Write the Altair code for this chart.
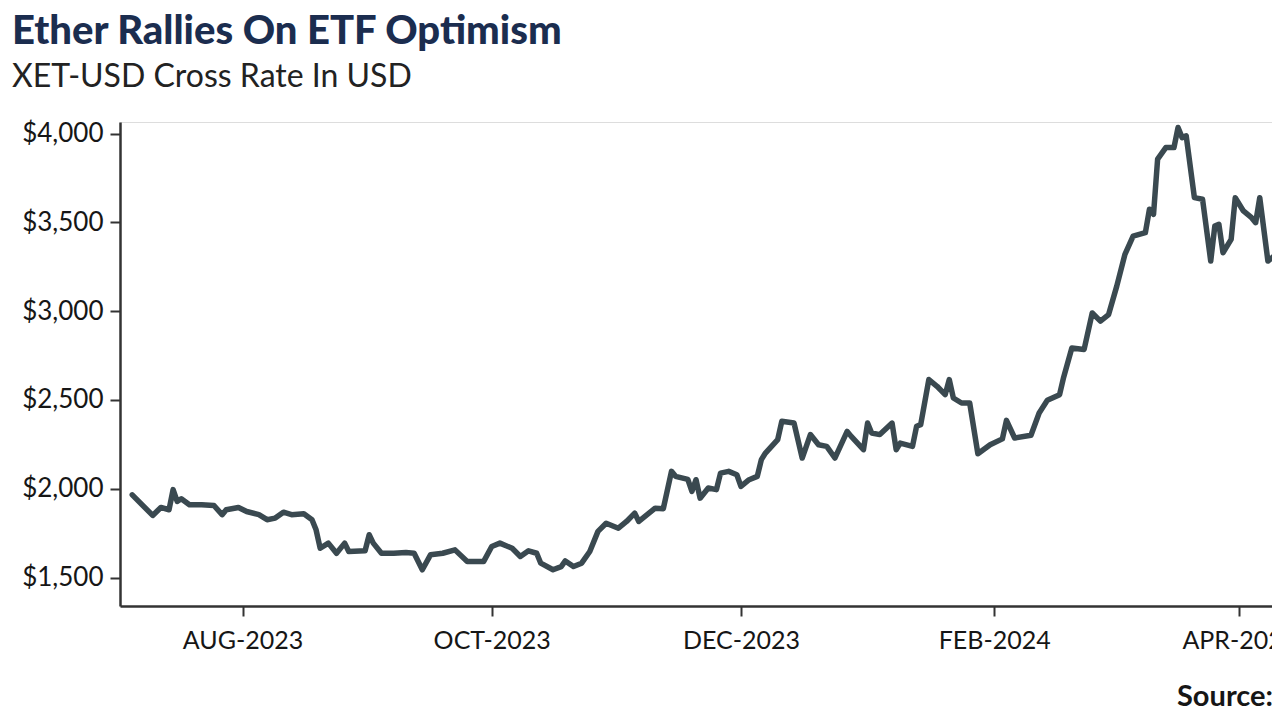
import altair as alt
import pandas as pd

# XET-USD cross rate
dates = [
    "2023-07-05", "2023-07-10", "2023-07-12", "2023-07-14", "2023-07-15", "2023-07-16",
    "2023-07-17", "2023-07-19", "2023-07-22", "2023-07-25", "2023-07-27", "2023-07-28",
    "2023-07-31", "2023-08-02", "2023-08-05", "2023-08-07", "2023-08-09", "2023-08-11",
    "2023-08-13", "2023-08-16", "2023-08-18", "2023-08-19", "2023-08-20", "2023-08-22",
    "2023-08-24", "2023-08-26", "2023-08-27", "2023-08-31", "2023-09-01", "2023-09-02",
    "2023-09-04", "2023-09-07", "2023-09-10", "2023-09-12", "2023-09-14", "2023-09-16",
    "2023-09-19", "2023-09-22", "2023-09-25", "2023-09-29", "2023-10-01", "2023-10-03",
    "2023-10-06", "2023-10-08", "2023-10-10", "2023-10-12", "2023-10-13", "2023-10-16",
    "2023-10-18", "2023-10-19", "2023-10-21", "2023-10-23", "2023-10-25", "2023-10-27",
    "2023-10-29", "2023-11-01", "2023-11-03", "2023-11-05", "2023-11-06", "2023-11-10",
    "2023-11-12", "2023-11-14", "2023-11-15", "2023-11-18", "2023-11-19", "2023-11-20",
    "2023-11-21", "2023-11-23", "2023-11-25", "2023-11-26", "2023-11-28", "2023-11-30",
    "2023-12-01", "2023-12-03", "2023-12-05", "2023-12-06", "2023-12-07", "2023-12-10",
    "2023-12-11", "2023-12-14", "2023-12-16", "2023-12-18", "2023-12-20", "2023-12-22",
    "2023-12-24", "2023-12-27", "2023-12-28", "2023-12-31", "2024-01-01", "2024-01-02",
    "2024-01-04", "2024-01-07", "2024-01-08", "2024-01-09", "2024-01-12", "2024-01-13",
    "2024-01-14", "2024-01-16", "2024-01-18", "2024-01-20", "2024-01-21", "2024-01-22",
    "2024-01-24", "2024-01-26", "2024-01-28", "2024-01-31", "2024-02-03", "2024-02-04",
    "2024-02-06", "2024-02-10", "2024-02-12", "2024-02-14", "2024-02-17", "2024-02-18",
    "2024-02-20", "2024-02-23", "2024-02-25", "2024-02-27", "2024-02-29", "2024-03-02",
    "2024-03-04", "2024-03-06", "2024-03-09", "2024-03-10", "2024-03-11", "2024-03-12",
    "2024-03-14", "2024-03-16", "2024-03-17", "2024-03-18", "2024-03-19", "2024-03-21",
    "2024-03-23", "2024-03-25", "2024-03-26", "2024-03-27", "2024-03-28", "2024-03-30",
    "2024-03-31", "2024-04-02", "2024-04-04", "2024-04-05", "2024-04-06", "2024-04-08",
    "2024-04-10", "2024-04-11", "2024-04-13",
]
prices = [
    1966, 1850, 1895, 1882, 1995, 1929,
    1944, 1910, 1910, 1906, 1854, 1882,
    1895, 1872, 1854, 1826, 1835, 1868,
    1854, 1859, 1826, 1769, 1665, 1694,
    1637, 1694, 1647, 1651, 1741, 1694,
    1637, 1637, 1641, 1637, 1544, 1628,
    1637, 1656, 1590, 1590, 1675, 1694,
    1665, 1619, 1651, 1637, 1581, 1544,
    1562, 1594, 1562, 1581, 1647, 1760,
    1806, 1778, 1816, 1863, 1816, 1891,
    1888, 2098, 2070, 2053, 1985, 2051,
    1947, 2004, 1995, 2088, 2098, 2079,
    2013, 2051, 2070, 2164, 2201, 2277,
    2380, 2370, 2173, 2305, 2248, 2239,
    2173, 2323, 2295, 2220, 2370, 2314,
    2305, 2370, 2220, 2257, 2239, 2352,
    2361, 2615, 2577, 2530, 2615, 2511,
    2483, 2483, 2197, 2248, 2281, 2385,
    2286, 2301, 2427, 2498, 2530, 2628,
    2793, 2784, 2990, 2944, 2981, 3141,
    3320, 3423, 3442, 3574, 3545, 3856,
    3921, 3921, 4034, 3977, 3987, 3639,
    3630, 3282, 3479, 3489, 3329, 3404,
    3639, 3564, 3526, 3498, 3639, 3282,
    3320, 3338, 3350,
]
y_ticks = [1500, 2000, 2500, 3000, 3500, 4000]
x_tick_dates = [(2023, 8), (2023, 10), (2023, 12), (2024, 2), (2024, 4)]

title_text = "Ether Rallies On ETF Optimism"
subtitle_text = "XET-USD Cross Rate In USD"
source_text = "Source:"

df = pd.DataFrame({"date": pd.to_datetime(dates), "price": prices})
src = pd.DataFrame({"label": [source_text]})

x_enc = alt.X(
    "date:T",
    scale=alt.Scale(domain=[alt.DateTime(year=2023, month=7, date=2),
                            alt.DateTime(year=2024, month=4, date=9)]),
    axis=alt.Axis(
        values=[alt.DateTime(year=y, month=m, date=1) for y, m in x_tick_dates],
        labelExpr="upper(timeFormat(datum.value, '%b-%Y'))",
        title=None,
        grid=False,
        tickSize=10,
        tickWidth=2,
        tickColor="#333333",
        domainColor="#333333",
        domainWidth=2.5,
        labelFont="Lato",
        labelFontSize=25,
        labelColor="#161616",
        labelPadding=12,
        labelFlush=False,
        labelOverlap=False,
    ),
)
y_enc = alt.Y(
    "price:Q",
    scale=alt.Scale(domain=[1340, 4065], nice=False, zero=False),
    axis=alt.Axis(
        values=y_ticks,
        format="$,.0f",
        title=None,
        grid=False,
        tickSize=10,
        tickWidth=2,
        tickColor="#333333",
        domainColor="#333333",
        domainWidth=2.5,
        labelFont="Lato",
        labelFontSize=26,
        labelColor="#161616",
        labelPadding=7,
    ),
)

line = alt.Chart(df).mark_line(
    color="#3a4950", strokeWidth=5.5, strokeJoin="round", strokeCap="round", clip=True
).encode(x=x_enc, y=y_enc)

source = alt.Chart(src).mark_text(
    font="Lato", fontSize=29, fontWeight="bold", color="#161616",
    align="left", baseline="middle"
).encode(x=alt.value(1057), y=alt.value(575), text="label:N")

chart = alt.layer(line, source).properties(
    width=1152,
    height=484,
    autosize=alt.AutoSizeParams(type="none"),
    padding={"left": 112, "top": 114, "right": 0, "bottom": 107},
    title=alt.TitleParams(
        text=title_text,
        subtitle=subtitle_text,
        anchor="start",
        frame="group",
        dx=-108,
        offset=28,
        font="Lato",
        fontSize=40,
        fontWeight=900,
        color="#1b2d4f",
        subtitleFont="Lato",
        subtitleFontSize=32,
        subtitleColor="#222222",
        subtitlePadding=10,
    ),
).configure_view(stroke=None).configure(background="white")

chart.save("out.html", embed_options={"renderer": "svg", "actions": False})
